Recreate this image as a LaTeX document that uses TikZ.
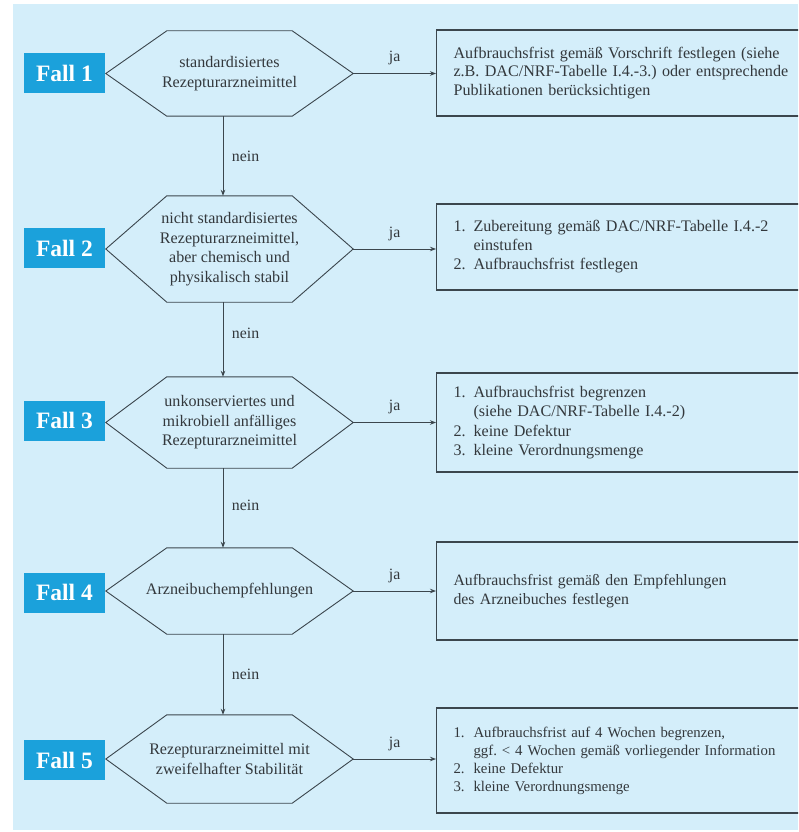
\documentclass[tikz,border=0pt]{standalone}
\usepackage{fontspec}
\setmainfont{Liberation Serif}
\usetikzlibrary{arrows.meta}
\definecolor{bgblue}{HTML}{D4EEFA}
\definecolor{fallblue}{HTML}{1BA1DB}
\definecolor{ink}{HTML}{33383C}
\definecolor{linec}{HTML}{3B464D}
\newcommand\hexoutline[1]{\draw[hexline] (#1.west) -- ([xshift=61pt]#1.north west) -- ([xshift=-61pt]#1.north east) -- (#1.east) -- ([xshift=-61pt]#1.south east) -- ([xshift=61pt]#1.south west) -- cycle;}
\newcommand\numitem[1]{\makebox[20pt][l]{#1}}
\frenchspacing
\begin{document}
\frenchspacing
\begin{tikzpicture}[x=1pt,y=-1pt,
  hexnode/.style={minimum width=247pt, inner sep=0pt, align=center,
    font=\fontsize{16.1}{19.5}\selectfont, text=ink},
  hexline/.style={draw=linec, line width=0.9pt},
  fallbox/.style={fill=fallblue, minimum width=81pt, minimum height=40pt,
    inner sep=0pt, text=white, font=\fontsize{23.5}{28}\selectfont\bfseries},
  rbox/.style={draw=linec, line width=1.1pt, anchor=west, text width=363pt,
    inner xsep=17pt, inner ysep=0pt, align=left,
    font=\fontsize{16.1}{19}\selectfont, text=ink},
  arrowc/.style={draw=linec, line width=0.9pt, -{Stealth[length=6pt,width=4.5pt]}},
  lbl/.style={inner sep=0pt, text=ink, font=\fontsize{15.8}{18}\selectfont}
]
\useasboundingbox (0,0) rectangle (798,832);
\fill[white] (0,0) rectangle (798,832);
\begin{scope}
\clip (0,0) rectangle (798,832);
\fill[bgblue] (13,4) rectangle (798,830);

% decision hexagons
\node[hexnode, minimum height=85pt] (h1) at (229.5,73.5) {standardisiertes\\Rezepturarzneimittel};
\node[hexnode, minimum height=106pt] (h2) at (229.5,249) {nicht standardisiertes\\Rezepturarzneimittel,\\aber chemisch und\\physikalisch stabil};
\node[hexnode, minimum height=91pt] (h3) at (229.5,422.5) {unkonserviertes und\\mikrobiell anfälliges\\Rezepturarzneimittel};
\node[hexnode, minimum height=86pt] (h4) at (229.5,591) {Arzneibuchempfehlungen};
\node[hexnode, minimum height=88pt] (h5) at (229.5,759) {Rezepturarzneimittel mit\\zweifelhafter Stabilität};
\hexoutline{h1}
\hexoutline{h2}
\hexoutline{h3}
\hexoutline{h4}
\hexoutline{h5}

% case labels
\node[fallbox] (f1) at (64.5,73) {Fall 1};
\node[fallbox] (f2) at (64.5,248) {Fall 2};
\node[fallbox] (f3) at (64.5,420.5) {Fall 3};
\node[fallbox] (f4) at (64.5,592.5) {Fall 4};
\node[fallbox] (f5) at (64.5,760) {Fall 5};

% result boxes
\node[rbox, minimum height=86pt, font=\fontsize{16.1}{18.6}\selectfont] (b1) at (436,73) {Aufbrauchsfrist gemäß Vorschrift festlegen (siehe\\z.B. DAC/NRF-Tabelle I.4.-3.) oder entsprechende\\Publikationen berücksichtigen};
\node[rbox, minimum height=86pt] (b2) at (436,247) {\numitem{1.}Zubereitung gemäß DAC/NRF-Tabelle I.4.-2\\\numitem{}einstufen\\\numitem{2.}Aufbrauchsfrist festlegen};
\node[rbox, minimum height=99pt, font=\fontsize{16.1}{19.5}\selectfont] (b3) at (436,422.5) {\numitem{1.}Aufbrauchsfrist begrenzen\\\numitem{}(siehe DAC/NRF-Tabelle I.4.-2)\\\numitem{2.}keine Defektur\\\numitem{3.}kleine Verordnungsmenge};
\node[rbox, minimum height=98pt, font=\fontsize{15.8}{19.5}\selectfont] (b4) at (436,591) {Aufbrauchsfrist gemäß den Empfehlungen\\des Arzneibuches festlegen};
\node[rbox, minimum height=105pt, font=\fontsize{14.8}{18}\selectfont] (b5) at (436,760.5) {\numitem{1.}Aufbrauchsfrist auf 4 Wochen begrenzen,\\\numitem{}ggf. < 4 Wochen gemäß vorliegender Information\\\numitem{2.}keine Defektur\\\numitem{3.}kleine Verordnungsmenge};

% ja arrows
\draw[arrowc] (h1.east) -- (h1.east -| b1.west) node[lbl, midway, yshift=15.5pt] {ja};
\draw[arrowc] (h2.east) -- (h2.east -| b2.west) node[lbl, midway, yshift=15.5pt] {ja};
\draw[arrowc] (h3.east) -- (h3.east -| b3.west) node[lbl, midway, yshift=15.5pt] {ja};
\draw[arrowc] (h4.east) -- (h4.east -| b4.west) node[lbl, midway, yshift=15.5pt] {ja};
\draw[arrowc] (h5.east) -- (h5.east -| b5.west) node[lbl, midway, yshift=15.5pt] {ja};

% nein arrows
\draw[arrowc] ([xshift=-6.5pt]h1.south) -- ([xshift=-6.5pt]h2.north) node[lbl, midway, anchor=west, xshift=8.5pt] {nein};
\draw[arrowc] ([xshift=-6.5pt]h2.south) -- ([xshift=-6.5pt]h3.north) node[lbl, midway, anchor=west, xshift=8.5pt, yshift=6pt] {nein};
\draw[arrowc] ([xshift=-6.5pt]h3.south) -- ([xshift=-6.5pt]h4.north) node[lbl, midway, anchor=west, xshift=8.5pt, yshift=3pt] {nein};
\draw[arrowc] ([xshift=-6.5pt]h4.south) -- ([xshift=-6.5pt]h5.north) node[lbl, midway, anchor=west, xshift=8.5pt] {nein};
\end{scope}
\end{tikzpicture}
\end{document}
